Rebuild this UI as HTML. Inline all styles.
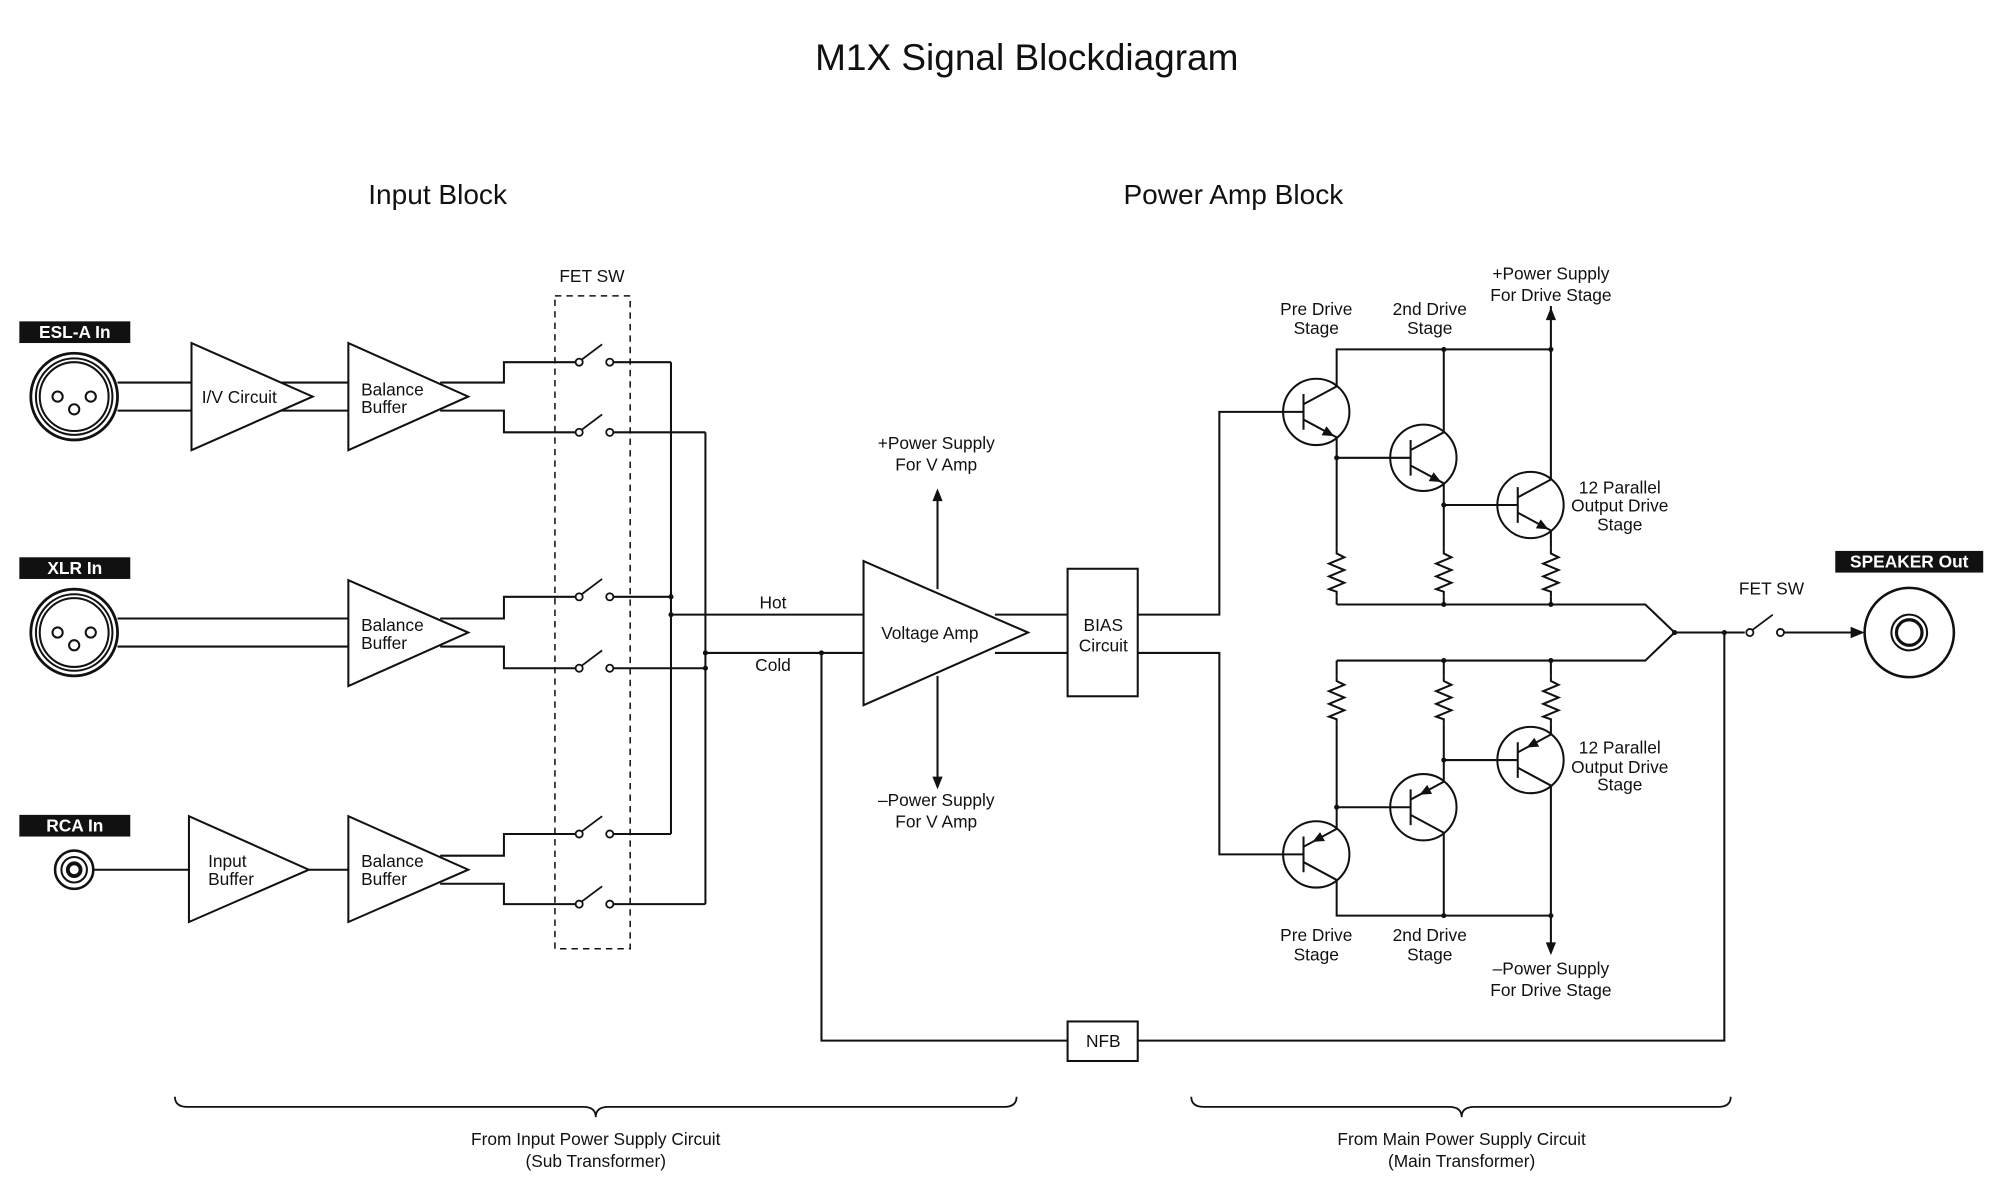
<!DOCTYPE html>
<html><head><meta charset="utf-8"><style>
html,body{margin:0;padding:0;background:#fff;}
svg{display:block;}
text{font-family:"Liberation Sans",Arial,sans-serif;fill:#111;}
</style></head><body>
<svg width="2000" height="1200" viewBox="0 0 1568 941" xmlns="http://www.w3.org/2000/svg">
<defs>
<g id="npn" fill="none" stroke="#111" stroke-width="1.6">
<circle r="26" fill="#fff"/>
<path d="M-26,0 H-10 M-10,-14 V14 M-10,-6 L16,-20 M-10,6 L16,20"/>
<polygon points="14,19 4.2,18.3 8,11.3" fill="#111" stroke="none"/>
</g>
<g id="pnp" fill="none" stroke="#111" stroke-width="1.6">
<circle r="26" fill="#fff"/>
<path d="M-26,0 H-10 M-10,-14 V14 M-10,-6 L16,-20 M-10,6 L16,20"/>
<polygon points="-3,-9.8 6.8,-10.5 3,-17.5" fill="#111" stroke="none"/>
</g>
<path id="res" d="M0,0 V4 L6,7 L-6,12 L6,17 L-6,22 L6,27 L-6,32 L0,34 V38" fill="none" stroke="#111" stroke-width="1.6"/>
<g id="sw" fill="none" stroke="#111" stroke-width="1.4">
<circle cx="0" cy="0" r="2.8" fill="#fff"/>
<circle cx="24" cy="0" r="2.8" fill="#fff"/>
<path d="M2,-2 L18,-14"/>
</g>
</defs>

<text x="805" y="55" font-size="29" text-anchor="middle">M1X Signal Blockdiagram</text>
<text x="343" y="160" font-size="22" text-anchor="middle">Input Block</text>
<text x="967" y="160" font-size="22" text-anchor="middle">Power Amp Block</text>

<rect x="15" y="252" width="87" height="17" fill="#111"/>
<text x="58.5" y="265" font-size="13.6" font-weight="bold" text-anchor="middle" style="fill:#fff">ESL-A In</text>
<rect x="15" y="437" width="87" height="17" fill="#111"/>
<text x="58.5" y="450" font-size="13.6" font-weight="bold" text-anchor="middle" style="fill:#fff">XLR In</text>
<rect x="15" y="639" width="87" height="17" fill="#111"/>
<text x="58.5" y="652" font-size="13.6" font-weight="bold" text-anchor="middle" style="fill:#fff">RCA In</text>
<rect x="1439" y="432" width="116" height="17" fill="#111"/>
<text x="1497" y="445" font-size="13.6" font-weight="bold" text-anchor="middle" style="fill:#fff">SPEAKER Out</text>

<g fill="none" stroke="#111" stroke-width="1.6">
<circle cx="58" cy="311" r="34" stroke-width="2.2"/><circle cx="58" cy="311" r="30"/><circle cx="58" cy="311" r="27"/>
<circle cx="45" cy="311" r="4"/><circle cx="71" cy="311" r="4"/><circle cx="58" cy="321" r="4"/>
<circle cx="58" cy="496" r="34" stroke-width="2.2"/><circle cx="58" cy="496" r="30"/><circle cx="58" cy="496" r="27"/>
<circle cx="45" cy="496" r="4"/><circle cx="71" cy="496" r="4"/><circle cx="58" cy="506" r="4"/>
<circle cx="58" cy="682" r="15" stroke-width="2"/><circle cx="58" cy="682" r="10"/><circle cx="58" cy="682" r="5" stroke-width="3"/>
<circle cx="1497" cy="496" r="35" stroke-width="2"/><circle cx="1497" cy="496" r="14"/><circle cx="1497" cy="496" r="10" stroke-width="2.5"/>

<path d="M92,300 H150 M92,322 H150 M210,300 H273 M210,322 H273"/>
<polygon points="150,269 150,353 245,311" fill="#fff"/>
<polygon points="273,269 273,353 367,311" fill="#fff"/>
<path d="M345,300 H395 V284 H452 M480,284 H526 M345,322 H395 V339 H452 M480,339 H553"/>
<path d="M92,485 H273 M92,507 H273"/>
<polygon points="273,455 273,538 367,496" fill="#fff"/>
<path d="M345,485 H395 V468 H452 M480,468 H526 M345,507 H395 V524 H452 M480,524 H553"/>
<path d="M73,682 H148 M242,682 H273"/>
<polygon points="148,640 148,723 242,682" fill="#fff"/>
<polygon points="273,640 273,723 367,682" fill="#fff"/>
<path d="M345,671 H395 V654 H452 M480,654 H526 M345,693 H395 V709 H452 M480,709 H553"/>
<path d="M526,284 V654 M553,339 V709 M526,482 H677 M553,512 H677"/>
<rect x="435" y="232" width="59" height="512" stroke-dasharray="5,4" stroke-width="1.2"/>
<path d="M644,512 V816 H837 M892,816 H1352 V496"/>
<rect x="837" y="801" width="55" height="31" fill="#fff"/>
<polygon points="677,440 677,553 806,496" fill="#fff"/>
<path d="M735,462 V390 M735,530 V612 M780,482 H837 M780,512 H837"/>
<rect x="837" y="446" width="55" height="100" fill="#fff"/>
<path d="M892,482 H956 V323 H1006 M892,512 H956 V670 H1006"/>
<path d="M1048,303 V274 H1216 V240 M1132,274 V339 M1216,274 V376 M1048,343 V430 M1048,468 V474 M1132,379 V430 M1132,468 V474 M1216,416 V430 M1216,468 V474 M1048,474 H1290 L1313,496 L1290,518 H1048 M1048,359 H1090 M1132,396 H1174"/>
<path d="M1048,518 V530 M1048,568 V650 M1132,518 V530 M1132,568 V613 M1216,518 V530 M1216,568 V576 M1048,690 V718 H1216 M1132,653 V718 M1216,616 V746 M1048,633 H1090 M1132,596 H1174"/>
<path d="M1313,496 H1368 M1399,496 H1452"/>
<path d="M137,860 Q137,868 147,868 H457 Q467,868 467,876 Q467,868 477,868 H787 Q797,868 797,860" stroke-width="1.4"/>
<path d="M934,860 Q934,868 944,868 H1136 Q1146,868 1146,876 Q1146,868 1156,868 H1347 Q1357,868 1357,860" stroke-width="1.4"/>
</g>
<g fill="#111">
<polygon points="735,383 731,393 739,393"/>
<polygon points="735,619 731,609 739,609"/>
<polygon points="1216,241 1212,251 1220,251"/>
<polygon points="1216,749 1212,739 1220,739"/>
<polygon points="1462,496 1451,491.5 1451,500.5"/>
<circle cx="526" cy="468" r="2"/><circle cx="526" cy="482" r="2"/><circle cx="553" cy="512" r="2"/><circle cx="553" cy="524" r="2"/>
<circle cx="644" cy="512" r="2"/><circle cx="1352" cy="496" r="2"/><circle cx="1313" cy="496" r="2"/>
<circle cx="1132" cy="274" r="2"/><circle cx="1216" cy="274" r="2"/><circle cx="1048" cy="359" r="2"/><circle cx="1132" cy="396" r="2"/>
<circle cx="1132" cy="474" r="2"/><circle cx="1216" cy="474" r="2"/><circle cx="1132" cy="518" r="2"/><circle cx="1216" cy="518" r="2"/>
<circle cx="1048" cy="633" r="2"/><circle cx="1132" cy="596" r="2"/><circle cx="1132" cy="718" r="2"/><circle cx="1216" cy="718" r="2"/>
</g>
<use href="#sw" x="454" y="284"/><use href="#sw" x="454" y="339"/>
<use href="#sw" x="454" y="468"/><use href="#sw" x="454" y="524"/>
<use href="#sw" x="454" y="654"/><use href="#sw" x="454" y="709"/>
<use href="#sw" x="1372" y="496"/>
<use href="#res" x="1048" y="430"/><use href="#res" x="1132" y="430"/><use href="#res" x="1216" y="430"/>
<use href="#res" x="1048" y="530"/><use href="#res" x="1132" y="530"/><use href="#res" x="1216" y="530"/>
<use href="#npn" x="1032" y="323"/><use href="#npn" x="1116" y="359"/><use href="#npn" x="1200" y="396"/>
<use href="#pnp" x="1200" y="596"/><use href="#pnp" x="1116" y="633"/><use href="#pnp" x="1032" y="670"/>

<g font-size="13.6">
<text x="464" y="221" text-anchor="middle">FET SW</text>
<text x="158" y="316">I/V Circuit</text>
<text x="283" y="310">Balance</text><text x="283" y="324">Buffer</text>
<text x="283" y="495">Balance</text><text x="283" y="509">Buffer</text>
<text x="163" y="680">Input</text><text x="163" y="694">Buffer</text>
<text x="283" y="680">Balance</text><text x="283" y="694">Buffer</text>
<text x="606" y="477" text-anchor="middle">Hot</text>
<text x="606" y="526" text-anchor="middle">Cold</text>
<text x="729" y="501" text-anchor="middle">Voltage Amp</text>
<text x="865" y="495" text-anchor="middle">BIAS</text><text x="865" y="511" text-anchor="middle">Circuit</text>
<text x="865" y="821" text-anchor="middle">NFB</text>
<text x="734" y="352" text-anchor="middle">+Power Supply</text><text x="734" y="369" text-anchor="middle">For V Amp</text>
<text x="734" y="632" text-anchor="middle">–Power Supply</text><text x="734" y="649" text-anchor="middle">For V Amp</text>
<text x="1032" y="247" text-anchor="middle">Pre Drive</text><text x="1032" y="262" text-anchor="middle">Stage</text>
<text x="1121" y="247" text-anchor="middle">2nd Drive</text><text x="1121" y="262" text-anchor="middle">Stage</text>
<text x="1216" y="219" text-anchor="middle">+Power Supply</text><text x="1216" y="236" text-anchor="middle">For Drive Stage</text>
<text x="1270" y="387" text-anchor="middle">12 Parallel</text><text x="1270" y="401" text-anchor="middle">Output Drive</text><text x="1270" y="416" text-anchor="middle">Stage</text>
<text x="1270" y="591" text-anchor="middle">12 Parallel</text><text x="1270" y="606" text-anchor="middle">Output Drive</text><text x="1270" y="620" text-anchor="middle">Stage</text>
<text x="1032" y="738" text-anchor="middle">Pre Drive</text><text x="1032" y="753" text-anchor="middle">Stage</text>
<text x="1121" y="738" text-anchor="middle">2nd Drive</text><text x="1121" y="753" text-anchor="middle">Stage</text>
<text x="1216" y="764" text-anchor="middle">–Power Supply</text><text x="1216" y="781" text-anchor="middle">For Drive Stage</text>
<text x="1389" y="466" text-anchor="middle">FET SW</text>
<text x="467" y="898" text-anchor="middle">From Input Power Supply Circuit</text><text x="467" y="915" text-anchor="middle">(Sub Transformer)</text>
<text x="1146" y="898" text-anchor="middle">From Main Power Supply Circuit</text><text x="1146" y="915" text-anchor="middle">(Main Transformer)</text>
</g>
</svg>
</body></html>
